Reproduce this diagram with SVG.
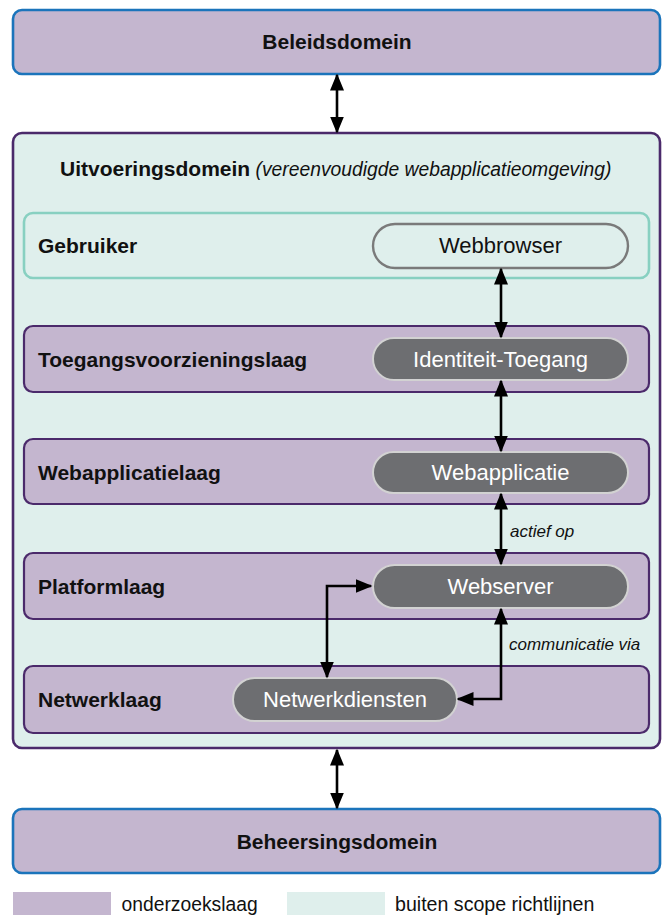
<svg xmlns="http://www.w3.org/2000/svg" width="664" height="915" viewBox="0 0 664 915">
<style>
text{font-family:"Liberation Sans",Arial,sans-serif;fill:#111}
.b{font-weight:bold;font-size:21px}
.pt{font-size:22px;fill:#fff;text-anchor:middle}
.it{font-style:italic}
.dom{fill:#c4b6cf;stroke:#1b74bb;stroke-width:2.6}
.uit{fill:#dfefec;stroke:#4b2a6b;stroke-width:2.6}
.lay{fill:#c4b6cf;stroke:#4b2a6b;stroke-width:2.2}
.geb{fill:#dfefec;stroke:#88d0c1;stroke-width:2.6}
.pill{fill:#6d6e71;stroke:#d2d2d2;stroke-width:2}
.wpill{fill:#dfefec;stroke:#7a7a7a;stroke-width:2.4}
.con path{fill:none;stroke:#000;stroke-width:2.6;marker-start:url(#ah);marker-end:url(#ah)}
</style>
<defs>
<marker id="ah" markerUnits="userSpaceOnUse" markerWidth="17" markerHeight="14" viewBox="0 0 17 14" refX="15.5" refY="7" orient="auto-start-reverse">
<path d="M0,0 L17,7 L0,14 z" fill="#000"/>
</marker>
</defs>

<g id="beleidsdomein">
<rect class="dom" x="13" y="10" width="647" height="64" rx="9"/>
<text class="b" x="337" y="49" text-anchor="middle">Beleidsdomein</text>
</g>

<g id="uitvoeringsdomein">
<rect class="uit" x="13" y="133" width="647" height="615" rx="9"/>
<text x="60" y="176"><tspan class="b">Uitvoeringsdomein</tspan><tspan class="it" font-size="19.3px"> (vereenvoudigde webapplicatieomgeving)</tspan></text>
</g>

<g id="gebruiker">
<rect class="geb" x="24" y="213" width="625" height="65" rx="9"/>
<text class="b" x="38" y="253">Gebruiker</text>
</g>
<g id="webbrowser">
<rect class="wpill" x="373" y="224" width="255" height="44" rx="22"/>
<text class="pt" x="500.5" y="253" style="fill:#111">Webbrowser</text>
</g>

<g id="toegangsvoorzieningslaag">
<rect class="lay" x="24" y="326" width="625" height="66" rx="9"/>
<text class="b" x="38" y="366.5">Toegangsvoorzieningslaag</text>
</g>
<g id="identiteit-toegang">
<rect class="pill" x="373" y="338" width="255" height="42" rx="21"/>
<text class="pt" x="500.5" y="366.5">Identiteit-Toegang</text>
</g>

<g id="webapplicatielaag">
<rect class="lay" x="24" y="439" width="625" height="65" rx="9"/>
<text class="b" x="38" y="480">Webapplicatielaag</text>
</g>
<g id="webapplicatie">
<rect class="pill" x="373" y="452" width="255" height="41" rx="20.5"/>
<text class="pt" x="500.5" y="480">Webapplicatie</text>
</g>

<g id="platformlaag">
<rect class="lay" x="24" y="553" width="625" height="66" rx="9"/>
<text class="b" x="38" y="593.5">Platformlaag</text>
</g>
<g id="webserver">
<rect class="pill" x="373" y="565" width="255" height="43" rx="21.5"/>
<text class="pt" x="500.5" y="594">Webserver</text>
</g>

<g id="netwerklaag">
<rect class="lay" x="24" y="666" width="625" height="67" rx="9"/>
<text class="b" x="38" y="707">Netwerklaag</text>
</g>
<g id="netwerkdiensten">
<rect class="pill" x="233" y="678" width="224" height="43" rx="21.5"/>
<text class="pt" x="345" y="707">Netwerkdiensten</text>
</g>

<g id="beheersingsdomein">
<rect class="dom" x="13" y="809" width="647" height="64" rx="9"/>
<text class="b" x="337" y="848.5" text-anchor="middle">Beheersingsdomein</text>
</g>

<g id="connectors" class="con">
<path d="M337,75 V132"/>
<path d="M501,269 V337"/>
<path d="M501,381 V451"/>
<path d="M501,494 V564"/>
<path d="M501,609 V699 H458"/>
<path d="M371,586 H327 V677"/>
<path d="M337,750 V808"/>
<text class="it" x="510" y="537" font-size="17px">actief op</text>
<text class="it" x="509" y="650" font-size="17px">communicatie via</text>
</g>

<g id="legend">
<rect x="13" y="892" width="98" height="23" fill="#c4b6cf"/>
<text x="121.5" y="911" font-size="19.3px">onderzoekslaag</text>
<rect x="287" y="892" width="98" height="23" fill="#dfefec"/>
<text x="395" y="911" font-size="19.6px">buiten scope richtlijnen</text>
</g>
</svg>
